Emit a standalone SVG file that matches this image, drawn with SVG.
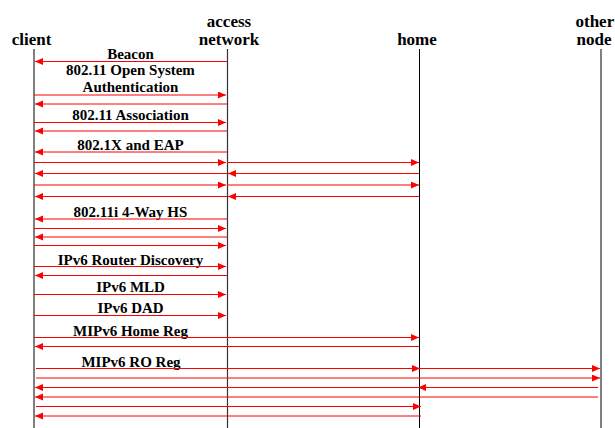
<svg xmlns="http://www.w3.org/2000/svg" width="615" height="428" viewBox="0 0 615 428">
<style>
.hdr{font-family:"Liberation Serif","Times New Roman",serif;font-weight:bold;font-size:17px;fill:#000}
.lbl{font-family:"Liberation Serif","Times New Roman",serif;font-weight:bold;font-size:15px;fill:#000;text-anchor:middle}
.msg{stroke:#ff0000;stroke-width:1;fill:none;marker-end:url(#ah)}
</style>
<defs>
<marker id="ah" markerUnits="userSpaceOnUse" markerWidth="9" markerHeight="8" refX="8" refY="3.5" orient="auto">
<path d="M0,0 L8,3.5 L0,7 z" fill="#ff0000"/>
</marker>
</defs>
<g id="client">
<line x1="34" y1="49" x2="34" y2="428" stroke="#808080" stroke-width="2"/>
<text class="hdr" x="31.5" y="45" text-anchor="middle">client</text>
</g>
<g id="access-network">
<line x1="227.5" y1="49" x2="227.5" y2="428" stroke="#333" stroke-width="1.2"/>
<text class="hdr" x="229" y="27" text-anchor="middle">access</text>
<text class="hdr" x="229" y="45" text-anchor="middle">network</text>
</g>
<g id="home">
<line x1="419.5" y1="49" x2="419.5" y2="428" stroke="#000" stroke-width="1"/>
<text class="hdr" x="417" y="45" text-anchor="middle">home</text>
</g>
<g id="other-node">
<line x1="601" y1="49" x2="601" y2="428" stroke="#808080" stroke-width="2"/>
<text class="hdr" x="575.5" y="27">other</text>
<text class="hdr" x="576.5" y="45">node</text>
</g>
<g id="labels">
<text class="lbl" x="130.5" y="59">Beacon</text>
<text class="lbl" x="130.5" y="75">802.11 Open System</text>
<text class="lbl" x="130.5" y="92">Authentication</text>
<text class="lbl" x="130.5" y="120">802.11 Association</text>
<text class="lbl" x="130.5" y="149.5">802.1X and EAP</text>
<text class="lbl" x="130.5" y="216.5">802.11i 4-Way HS</text>
<text class="lbl" x="130.5" y="265">IPv6 Router Discovery</text>
<text class="lbl" x="130.5" y="292">IPv6 MLD</text>
<text class="lbl" x="130.5" y="313">IPv6 DAD</text>
<text class="lbl" x="130.5" y="336">MIPv6 Home Reg</text>
<text class="lbl" x="131" y="367">MIPv6 RO Reg</text>
</g>
<g id="connectors">
<line class="msg" x1="227" y1="61.5" x2="35" y2="61.5"/>
<line class="msg" x1="34" y1="95" x2="226" y2="95"/>
<line class="msg" x1="227" y1="104" x2="35" y2="104"/>
<line class="msg" x1="34" y1="122.5" x2="226" y2="122.5"/>
<line class="msg" x1="227" y1="131" x2="35" y2="131"/>
<line class="msg" x1="227" y1="152" x2="35" y2="152"/>
<line class="msg" x1="34" y1="162.5" x2="226" y2="162.5"/>
<line class="msg" x1="227" y1="162.5" x2="419" y2="162.5"/>
<line class="msg" x1="419" y1="173.5" x2="228" y2="173.5"/>
<line class="msg" x1="227" y1="173.5" x2="35" y2="173.5"/>
<line class="msg" x1="34" y1="185" x2="226" y2="185"/>
<line class="msg" x1="227" y1="185" x2="419" y2="185"/>
<line class="msg" x1="419" y1="196.5" x2="228" y2="196.5"/>
<line class="msg" x1="227" y1="196.5" x2="35" y2="196.5"/>
<line class="msg" x1="227" y1="219" x2="35" y2="219"/>
<line class="msg" x1="34" y1="228.5" x2="226" y2="228.5"/>
<line class="msg" x1="227" y1="237" x2="35" y2="237"/>
<line class="msg" x1="34" y1="245.5" x2="226" y2="245.5"/>
<line class="msg" x1="34" y1="266.5" x2="226" y2="266.5"/>
<line class="msg" x1="227" y1="275.5" x2="35" y2="275.5"/>
<line class="msg" x1="34" y1="294.5" x2="226" y2="294.5"/>
<line class="msg" x1="34" y1="315.5" x2="226" y2="315.5"/>
<line class="msg" x1="34" y1="337.5" x2="419" y2="337.5"/>
<line class="msg" x1="419" y1="346.5" x2="35" y2="346.5"/>
<line class="msg" x1="36" y1="368.5" x2="420" y2="368.5"/>
<line class="msg" x1="420" y1="368.5" x2="600" y2="368.5"/>
<line class="msg" x1="36" y1="378" x2="600" y2="378"/>
<line class="msg" x1="598" y1="387.5" x2="418" y2="387.5"/>
<line class="msg" x1="419" y1="387.5" x2="35" y2="387.5"/>
<line class="msg" x1="598" y1="397" x2="35" y2="397"/>
<line class="msg" x1="36" y1="406.5" x2="421" y2="406.5"/>
<line class="msg" x1="421" y1="416" x2="35" y2="416"/>
</g>
</svg>
